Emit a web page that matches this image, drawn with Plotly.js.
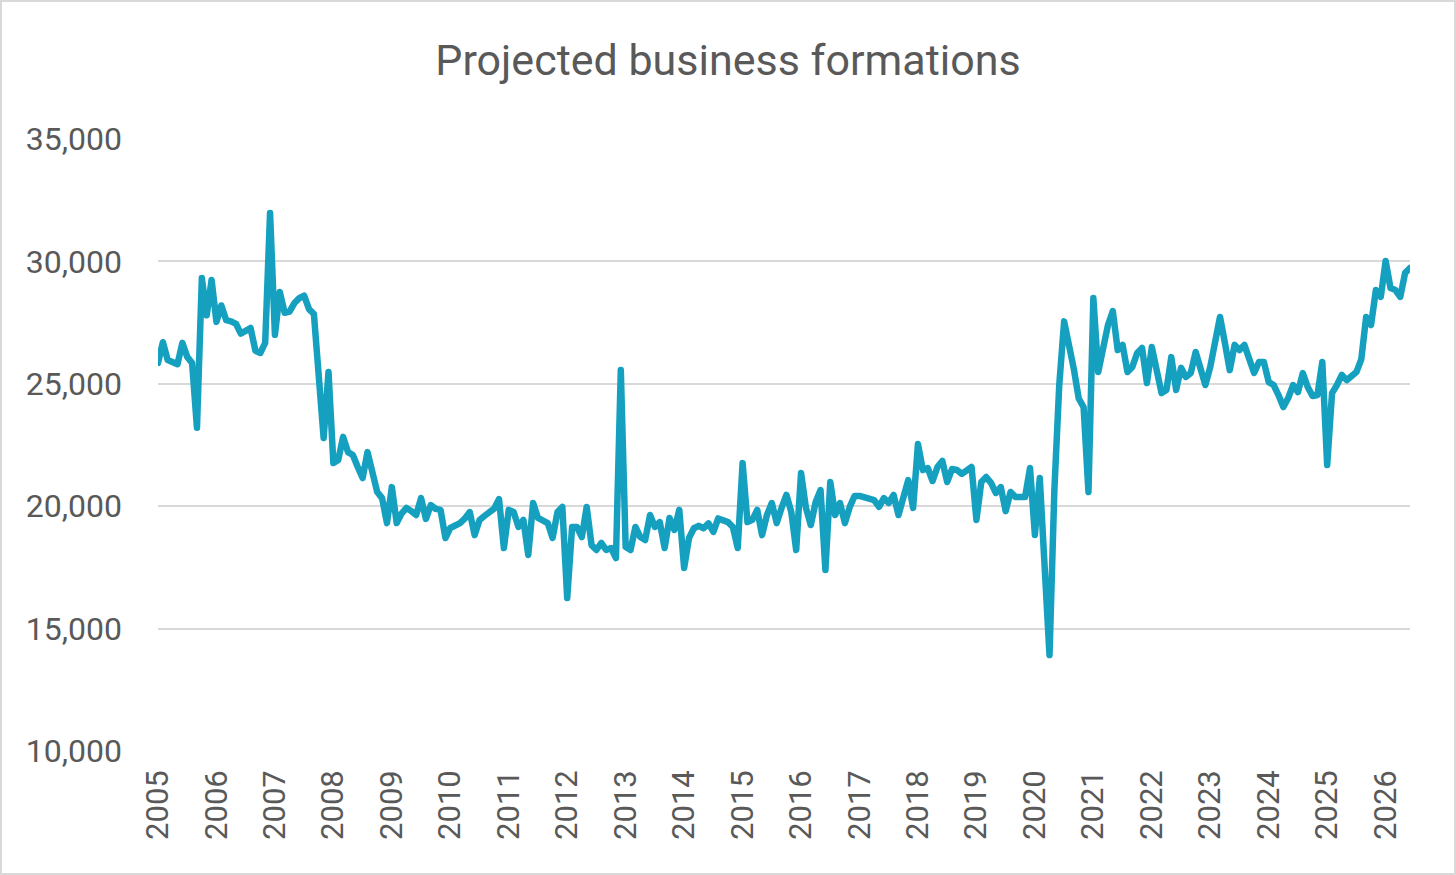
<!DOCTYPE html>
<html>
<head>
<meta charset="utf-8">
<script src="https://cdn.plot.ly/plotly-3.0.1.min.js"></script>
<style>
  html, body { margin: 0; padding: 0; background: #fff; overflow: hidden; }
  #wrap { position: relative; width: 1456px; height: 875px; }
  #chart { position: absolute; left: 0; top: 0; width: 1456px; height: 875px; }
  #frame { position: absolute; left: 0; top: 0; width: 1456px; height: 875px; box-sizing: border-box; border: 2px solid #d9d9d9; pointer-events: none; }
  .js-line { stroke-linejoin: round !important; stroke-linecap: round !important; }
</style>
</head>
<body>
<div id="wrap"><div id="chart"></div><div id="frame"></div></div>
<script>
// ---- data ----
const startYear = 2005;
const years = ["2005","2006","2007","2008","2009","2010","2011","2012","2013","2014","2015","2016","2017","2018","2019","2020","2021","2022","2023","2024","2025","2026"];
const formations = [
25850,26700,25970,25900,25800,26670,26100,25850,23200,29320,27800,29240,
27530,28200,27600,27550,27450,27050,27200,27280,26350,26260,26670,31980,
27000,28750,27900,27950,28300,28500,28600,28050,27850,25300,22790,25480,
21760,21890,22830,22210,22090,21600,21150,22210,21360,20580,20330,19310,
20780,19310,19700,19930,19800,19640,20330,19480,20050,19890,19850,18700,
19110,19200,19310,19500,19760,18820,19440,19600,19760,19900,20290,18290,
19850,19760,19150,19440,18010,20130,19520,19400,19310,18700,19760,19970,
16250,19150,19150,18740,19970,18410,18210,18500,18210,18290,17880,25560,
18330,18210,19150,18740,18620,19640,19150,19350,18290,19520,19030,19850,
17480,18700,19100,19200,19100,19300,18950,19500,19450,19350,19150,18290,
21760,19350,19440,19850,18820,19640,20130,19310,19930,20460,19760,18210,
21360,19930,19230,20170,20660,17390,20990,19640,20130,19310,19970,20420,
20420,20350,20290,20250,19970,20330,20130,20460,19640,20330,21070,19930,
22540,21480,21560,21030,21600,21850,20990,21520,21480,21320,21450,21600,
19440,20990,21190,20950,20540,20780,19800,20580,20380,20400,20380,21560,
18820,21150,17500,13920,20660,24950,27550,26700,25600,24400,24050,20580,
28500,25480,26380,27400,27970,26380,26590,25480,25690,26260,26460,25030,
26500,25480,24620,24750,26090,24750,25650,25280,25440,26300,25560,24950,
25690,26700,27730,26670,25560,26590,26380,26590,26090,25440,25890,25890,
25070,24950,24540,24050,24420,24950,24660,25440,24870,24500,24540,25890,
21680,24620,24950,25360,25150,25280,25480,26000,27730,27400,28830,28550,
30020,28910,28830,28550,29530,29730
];
const yTicks = [10000,15000,20000,25000,30000,35000];

// month categories (one per value)
const months = formations.map((_, i) => {
  const y = startYear + Math.floor(i / 12);
  const m = (i % 12) + 1;
  return "m" + y + "-" + (m < 10 ? "0" + m : m);
});
const yearTickVals = years.map(y => "m" + y + "-01");

const textColor = "#595959";
const gridColor = "#d9d9d9";

const trace = {
  x: months,
  y: formations,
  type: "scatter",
  mode: "lines",
  line: { color: "#16a0bf", width: 6.5 },
  hoverinfo: "skip"
};

const layout = {
  width: 1456,
  height: 875,
  margin: { l: 158, r: 46, t: 139, b: 124 },
  paper_bgcolor: "#ffffff",
  plot_bgcolor: "#ffffff",
  showlegend: false,
  font: { family: "Roboto, 'Noto Sans', sans-serif", color: textColor },
  title: {
    text: "Projected business formations",
    font: { family: "Roboto, sans-serif", size: 43, color: textColor },
    x: 0.5, xanchor: "center", xref: "container",
    y: 0.931, yanchor: "middle", yref: "container"
  },
  xaxis: {
    type: "category",
    range: [0, months.length - 1],
    tickmode: "array",
    tickvals: yearTickVals,
    ticktext: years,
    tickangle: -90,
    tickfont: { size: 31, color: textColor },
    ticks: "",
    showgrid: false,
    zeroline: false,
    showline: false,
    ticklabelstandoff: 12,
    fixedrange: true
  },
  yaxis: {
    range: [10000, 35000],
    tickmode: "array",
    tickvals: yTicks,
    tickformat: ",d",
    tickfont: { size: 32, color: textColor },
    ticks: "",
    showgrid: true,
    gridcolor: gridColor,
    gridwidth: 2,
    zeroline: false,
    showline: false,
    ticklabelstandoff: 35,
    fixedrange: true
  }
};

Plotly.newPlot("chart", [trace], layout, { displayModeBar: false, staticPlot: true });
</script>
</body>
</html>
